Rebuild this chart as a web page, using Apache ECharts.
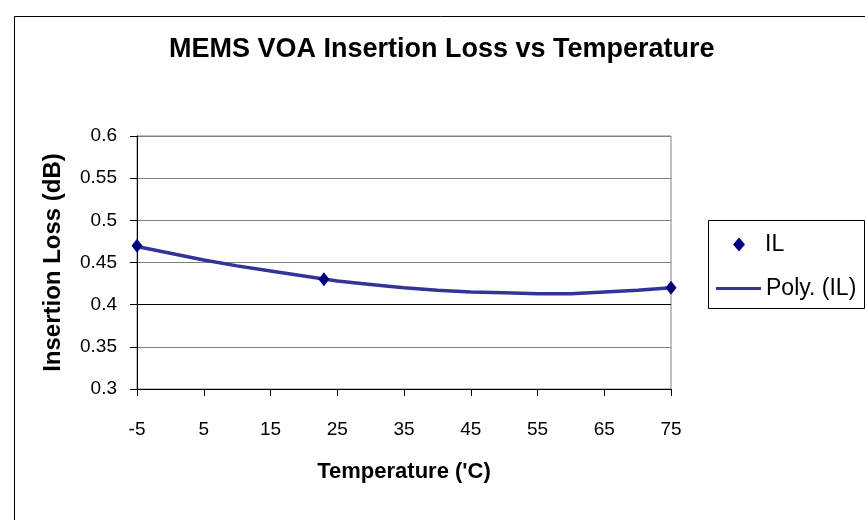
<!DOCTYPE html>
<html>
<head>
<meta charset="utf-8">
<script src="https://cdn.jsdelivr.net/npm/echarts@6/dist/echarts.min.js"></script>
<style>
  html, body { margin: 0; padding: 0; background: #fff; }
  #chart { width: 865px; height: 520px; }
</style>
</head>
<body>
<div id="chart"></div>
<script>
// measured IL points
const ilTemps = [-5, 23, 75];
const ilValues = [0.47, 0.43, 0.42];

// polynomial trendline, every 5 'C
const polyTemps = [-5, 0, 5, 10, 15, 20, 25, 30, 35, 40, 45, 50, 55, 60, 65, 70, 75];
const polyValues = [0.469, 0.461, 0.453, 0.446, 0.440, 0.434, 0.428, 0.424, 0.420, 0.417, 0.415, 0.414, 0.413, 0.413, 0.415, 0.417, 0.420];

const chart = echarts.init(document.getElementById('chart'));

const sans = "'Liberation Sans', Arial, sans-serif";

const option = {
  animation: false,
  backgroundColor: '#fff',
  graphic: [
    // chart frame
    {
      type: 'rect',
      left: 12,
      top: 14,
      shape: { width: 870, height: 520 },
      style: { fill: 'none', stroke: '#000', lineWidth: 1 },
      silent: true
    },
    // legend frame
    {
      type: 'rect',
      left: 708,
      top: 220,
      shape: { width: 156, height: 88 },
      style: { fill: '#fff', stroke: '#000', lineWidth: 1 },
      silent: true,
      z: -1
    }
  ],
  title: {
    text: 'MEMS VOA Insertion Loss vs Temperature',
    left: 169,
    top: 36,
    padding: 0,
    textStyle: {
      fontFamily: sans,
      fontWeight: 'bold',
      fontSize: 27,
      color: '#000'
    }
  },
  grid: {
    left: 137,
    right: 194,
    top: 136,
    bottom: 131,
    show: true,
    borderColor: '#808080',
    borderWidth: 1
  },
  legend: [
    {
      left: 733,
      top: 233,
      padding: 0,
      itemWidth: 12,
      itemHeight: 14,
      textStyle: { fontFamily: sans, fontSize: 23, color: '#000', padding: [0, 0, 0, 15] },
      data: [{ name: 'IL', icon: 'diamond' }]
    },
    {
      left: 716,
      top: 277,
      padding: 0,
      itemWidth: 45,
      itemHeight: 3,
      textStyle: { fontFamily: sans, fontSize: 23, color: '#000' },
      data: [{ name: 'Poly. (IL)', icon: 'rect' }]
    }
  ],
  xAxis: {
    type: 'value',
    min: -5,
    max: 75,
    interval: 10,
    name: "Temperature ('C)",
    nameLocation: 'middle',
    nameGap: 72,
    nameTextStyle: { fontFamily: sans, fontWeight: 'bold', fontSize: 22, color: '#000' },
    axisLine: { onZero: false, lineStyle: { color: '#000', width: 1 } },
    axisTick: { inside: false, length: 7, lineStyle: { color: '#000' } },
    axisLabel: { margin: 31, fontFamily: sans, fontSize: 19, color: '#000' },
    splitLine: { show: false }
  },
  yAxis: {
    type: 'value',
    min: 0.3,
    max: 0.6,
    interval: 0.05,
    name: 'Insertion Loss (dB)',
    nameLocation: 'middle',
    nameGap: 72,
    nameTextStyle: { fontFamily: sans, fontWeight: 'bold', fontSize: 24, color: '#000' },
    axisLine: { show: true, onZero: false, lineStyle: { color: '#000', width: 1 } },
    axisTick: { show: true, inside: false, length: 7, lineStyle: { color: '#000' } },
    axisLabel: { margin: 20, fontFamily: sans, fontSize: 19, color: '#000' },
    splitLine: {
      show: true,
      lineStyle: {
        color: ['#808080', '#808080', '#000000', '#808080', '#808080', '#808080', '#808080'],
        width: 1
      }
    }
  },
  series: [
    {
      name: 'Poly. (IL)',
      type: 'line',
      data: polyTemps.map((t, i) => [t, polyValues[i]]),
      symbol: 'none',
      lineStyle: { color: '#333399', width: 3.5 },
      itemStyle: { color: '#333399' },
      z: 2
    },
    {
      name: 'IL',
      type: 'scatter',
      data: ilTemps.map((t, i) => [t, ilValues[i]]),
      symbol: 'diamond',
      symbolSize: [11, 14],
      itemStyle: { color: '#000080', opacity: 1 },
      z: 3
    }
  ]
};

chart.setOption(option);
</script>
</body>
</html>
